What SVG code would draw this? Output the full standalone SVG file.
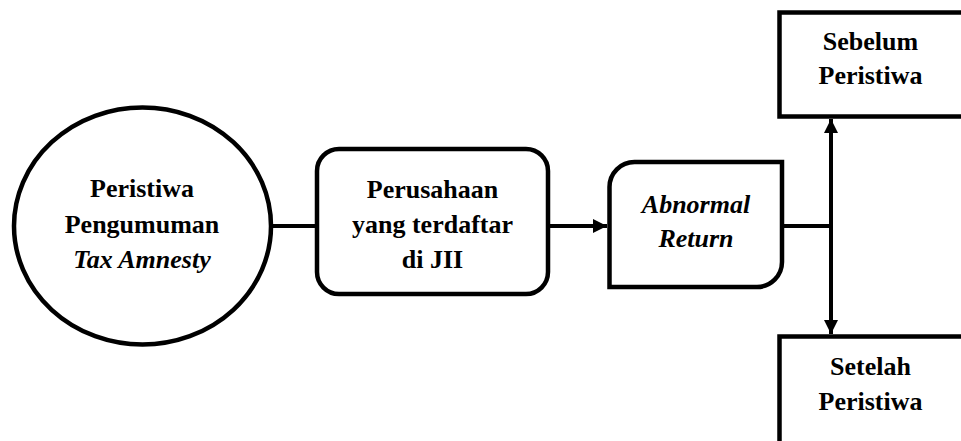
<svg xmlns="http://www.w3.org/2000/svg" width="961" height="441" viewBox="0 0 961 441">
<defs>
<style>
.shape{fill:#fff;stroke:#000;stroke-width:4.5}
.conn{fill:none;stroke:#000;stroke-width:4}
text{font-family:"Liberation Serif","Times New Roman",serif;font-size:26px;font-weight:bold;fill:#000;text-anchor:middle}
.it{font-style:italic}
</style>
<marker id="ah" viewBox="0 0 10 10" refX="10" refY="5" markerWidth="14" markerHeight="15" markerUnits="userSpaceOnUse" orient="auto-start-reverse">
<path d="M0,0 L10,5 L0,10 Z" fill="#000"/>
</marker>
</defs>
<g id="connectors">
<line class="conn" x1="271" y1="226" x2="317" y2="226"/>
<line class="conn" x1="548" y1="226" x2="607" y2="226" marker-end="url(#ah)"/>
<line class="conn" x1="782" y1="226" x2="831" y2="226"/>
<line class="conn" x1="831" y1="119" x2="831" y2="334" marker-start="url(#ah)" marker-end="url(#ah)"/>
</g>
<g id="node-peristiwa">
<ellipse class="shape" cx="142.5" cy="226" rx="128.5" ry="118.5"/>
<text x="142" y="197">Peristiwa</text>
<text x="142" y="232.5">Pengumuman</text>
<text x="142" y="268" class="it">Tax Amnesty</text>
</g>
<g id="node-perusahaan">
<rect class="shape" x="317" y="149" width="231" height="145" rx="22"/>
<text x="432.5" y="198">Perusahaan</text>
<text x="432.5" y="233">yang terdaftar</text>
<text x="432.5" y="268">di JII</text>
</g>
<g id="node-abnormal">
<path class="shape" d="M609.5,287 V187 A25,25 0 0 1 634.5,162 H782 V262 A25,25 0 0 1 757,287 Z"/>
<text x="696" y="213" class="it">Abnormal</text>
<text x="696" y="247" class="it">Return</text>
</g>
<g id="node-sebelum">
<rect class="shape" x="779.5" y="12.5" width="190" height="104"/>
<text x="870.5" y="49.5">Sebelum</text>
<text x="870.5" y="83.5">Peristiwa</text>
</g>
<g id="node-setelah">
<rect class="shape" x="779.5" y="336.5" width="190" height="110"/>
<text x="870.5" y="375">Setelah</text>
<text x="870.5" y="410">Peristiwa</text>
</g>
</svg>
